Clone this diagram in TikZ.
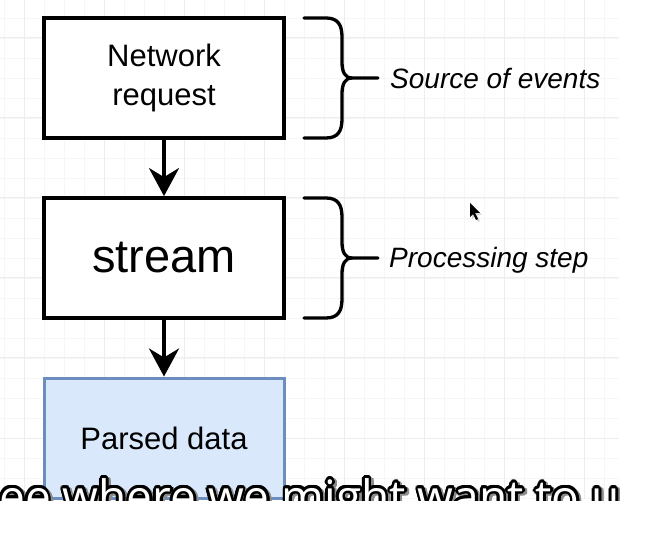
\documentclass[tikz,border=0pt]{standalone}
\usepackage{fontspec}
\setmainfont{Liberation Sans}
\newfontfamily\subfont{Open Sans}
\usetikzlibrary{arrows.meta,calc}
\definecolor{gridminor}{HTML}{F6F6F6}
\definecolor{gridmajor}{HTML}{EDEDED}
\definecolor{bluefill}{HTML}{DAE8FC}
\definecolor{blueline}{HTML}{6C8EBF}
\tikzset{
  boxstyle/.style={draw=black, line width=3.8pt, fill=white, minimum width=240pt, minimum height=120pt, inner sep=0pt, align=center},
  bluebox/.style={boxstyle, draw=blueline, fill=bluefill, line width=3pt},
  flowarrow/.style={line width=3.8pt, -{Stealth[length=28pt, width=30pt, inset=9pt]}},
  bracestyle/.style={line width=3.3pt, line cap=round, line join=round},
  sidelabel/.style={anchor=west, inner sep=0pt, font=\fontsize{28}{32}\selectfont\itshape},
  subtext/.style={anchor=base west, inner sep=0pt, font=\subfont\fontsize{46}{50}\selectfont},
}
\begin{document}
\begin{tikzpicture}[x=1pt, y=-1pt]
\useasboundingbox (0,0) rectangle (669,534);
\fill[white] (0,0) rectangle (669,534);
% grid
\begin{scope}
\clip (0,0) rectangle (619,499);
\foreach \x in {4,24,...,619} \draw[gridminor, line width=0.8pt] (\x,0) -- (\x,499);
\foreach \y in {18,38,...,499} \draw[gridminor, line width=0.8pt] (0,\y) -- (619,\y);
\foreach \x in {24,104,...,619} \draw[gridmajor, line width=1pt] (\x,0) -- (\x,499);
\foreach \y in {38,118,...,499} \draw[gridmajor, line width=1pt] (0,\y) -- (619,\y);
\end{scope}
% boxes
\node[boxstyle, font=\fontsize{31}{39}\selectfont] (net) at (164,78) {Network\\request};
\node[boxstyle, font=\fontsize{47}{52}\selectfont] (stream) at (164,258) {stream};
\node[bluebox, font=\fontsize{31}{36}\selectfont] (parsed) at (164,438) {Parsed data};
\draw[flowarrow] (net.south) -- (stream.north);
\draw[flowarrow] (stream.south) -- (parsed.north);
% braces
\coordinate (b1tip) at (378,78);
\coordinate (b2tip) at (378,258);
\draw[bracestyle] (304,18) -- (326,18) .. controls (338,18) and (342,25) .. (342,37) -- (342,62) .. controls (342,72) and (345,78) .. (352,78) -- (b1tip);
\draw[bracestyle] (352,78) .. controls (345,78) and (342,84) .. (342,94) -- (342,119) .. controls (342,131) and (338,138) .. (326,138) -- (304,138);
\draw[bracestyle] (304,198) -- (326,198) .. controls (338,198) and (342,205) .. (342,217) -- (342,242) .. controls (342,252) and (345,258) .. (352,258) -- (b2tip);
\draw[bracestyle] (352,258) .. controls (345,258) and (342,264) .. (342,274) -- (342,299) .. controls (342,311) and (338,318) .. (326,318) -- (304,318);
\node[sidelabel] (src) at (390,78) {Source of events};
\node[sidelabel] (proc) at (389,260) {Processing step};
% cursor
\fill[black!15] (472,205) -- (472,219) -- (475,216) -- (478,222) -- (480,221) -- (477,215) -- (482,215) -- cycle;
\fill[black] (470,203) -- (470,217) -- (473,214) -- (476,220) -- (478,219) -- (475,213) -- (480,213) -- cycle;
% subtitle
\begin{scope}
\clip (0,0) rectangle (619,500);
\coordinate (subpos) at (-1,513);
\foreach \a in {0,20,...,340} {
  \node[subtext, text=black!45] at ($(subpos)+(2,2)+(\a:3)$) {ee where we might want to u};
}
\foreach \a in {0,20,...,340} {
  \node[subtext, text=black] at ($(subpos)+(\a:2.6)$) {ee where we might want to u};
}
\node[subtext, text=white] (sub) at (subpos) {ee where we might want to u};
\end{scope}
\end{tikzpicture}
\end{document}
